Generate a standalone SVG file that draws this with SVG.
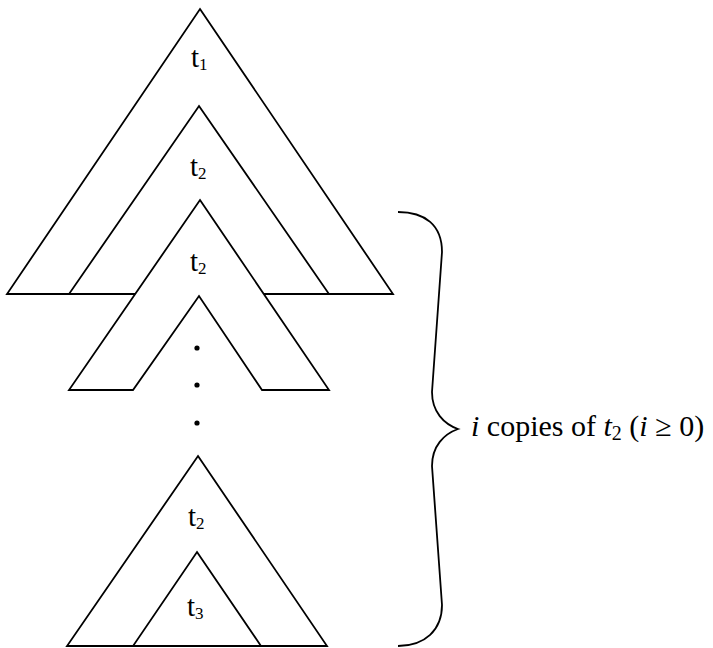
<svg xmlns="http://www.w3.org/2000/svg" width="713" height="648" viewBox="0 0 713 648">
<style>
.tri{fill:#fff;stroke:#000;stroke-width:1.8;stroke-linejoin:miter}
.lbl{font-family:"Liberation Serif","Times New Roman",serif;font-size:29px;fill:#000}
.sub{font-size:17px}
.cap{font-family:"Liberation Serif","Times New Roman",serif;font-size:30px;fill:#000}
.dot{fill:#000}
</style>
<rect width="713" height="648" fill="#fff"/>
<g id="t1">
<polygon class="tri" points="200,9 393,294 7,294"/>
<text class="lbl" x="191" y="67">t<tspan class="sub" dy="3">1</tspan></text>
</g>
<g id="t2-outer">
<polygon class="tri" points="199,106 329,294 69,294"/>
<text class="lbl" x="190" y="176">t<tspan class="sub" dy="3">2</tspan></text>
</g>
<g id="t2-second">
<polygon class="tri" points="200,200 329,390 262,390 199,296 133,390 69,390"/>
<text class="lbl" x="190" y="271">t<tspan class="sub" dy="3">2</tspan></text>
<circle class="dot" cx="197" cy="348" r="2.6"/>
<circle class="dot" cx="197" cy="385" r="2.6"/>
<circle class="dot" cx="197" cy="423" r="2.6"/>
</g>
<g id="t2-last">
<polygon class="tri" points="198,456 327,646 67,646"/>
<text class="lbl" x="188" y="526">t<tspan class="sub" dy="3">2</tspan></text>
</g>
<g id="t3">
<polygon class="tri" points="197,552 261,646 133,646"/>
<text class="lbl" x="187" y="616">t<tspan class="sub" dy="3">3</tspan></text>
</g>
<g id="connectors">
<path d="M398,212 C425,212 442,225 442,252 L432,392 C432,412 444,424 458,429 C444,434 432,446 432,466 L442,605 C442,630 425,646 398,646" fill="none" stroke="#000" stroke-width="1.8"/>
</g>
<g id="label">
<text class="cap" x="471" y="436"><tspan font-style="italic">i</tspan> copies of <tspan font-style="italic">t</tspan><tspan font-size="20" dy="4">2</tspan><tspan dy="-4"> (</tspan><tspan font-style="italic">i</tspan> ≥ 0)</text>
</g>
</svg>
